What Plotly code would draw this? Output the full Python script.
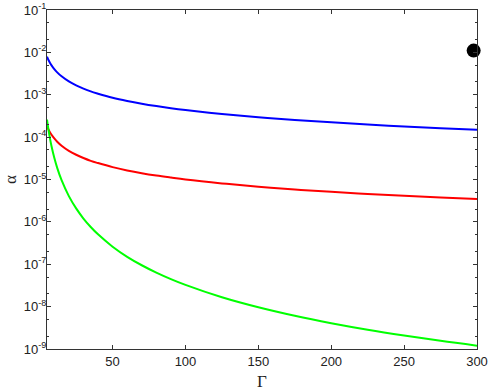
import plotly.graph_objects as go

gamma = [5, 6, 7, 8, 10, 12, 15, 20, 25, 30, 35, 40, 50, 60, 70, 80, 90, 100,
         125, 150, 175, 200, 225, 250, 275, 300]
alpha_blue = [7.9e-3, 6.62e-3, 5.7e-3, 5.01e-3, 4.04e-3, 3.38e-3, 2.72e-3, 2.06e-3,
              1.67e-3, 1.40e-3, 1.20e-3, 1.06e-3, 8.5e-4, 7.13e-4, 6.14e-4, 5.4e-4,
              4.82e-4, 4.36e-4, 3.52e-4, 2.94e-4, 2.53e-4, 2.23e-4, 1.98e-4, 1.79e-4,
              1.63e-4, 1.5e-4]
alpha_red = [1.82e-4, 1.52e-4, 1.31e-4, 1.15e-4, 9.3e-5, 7.78e-5, 6.26e-5, 4.74e-5,
             3.84e-5, 3.22e-5, 2.76e-5, 2.44e-5, 1.96e-5, 1.64e-5, 1.41e-5, 1.24e-5,
             1.11e-5, 1.0e-5, 8.1e-6, 6.76e-6, 5.8e-6, 5.13e-6, 4.55e-6, 4.12e-6,
             3.75e-6, 3.45e-6]
alpha_green = [2.6e-4, 1.50e-4, 9.47e-5, 6.35e-5, 3.25e-5, 1.88e-5, 9.63e-6, 4.06e-6,
               2.08e-6, 1.20e-6, 7.58e-7, 5.08e-7, 2.6e-7, 1.50e-7, 9.47e-8, 6.35e-8,
               4.46e-8, 3.25e-8, 1.66e-8, 9.63e-9, 6.06e-9, 4.06e-9, 2.85e-9, 2.08e-9,
               1.56e-9, 1.20e-9]
point_gamma = [297.7]
point_alpha = [1.1e-2]

x_ticks = [50, 100, 150, 200, 250, 300]
y_ticks = [1e-9, 1e-8, 1e-7, 1e-6, 1e-5, 1e-4, 1e-3, 1e-2, 1e-1]
y_ticklabels = ["10<sup>-%d</sup>" % k for k in range(9, 0, -1)]

fig = go.Figure()
for ys, col in [(alpha_blue, "#0000FF"), (alpha_red, "#FF0000"), (alpha_green, "#00FF00")]:
    fig.add_trace(go.Scatter(x=gamma, y=ys, mode="lines",
                             line=dict(color=col, width=2, shape="spline"),
                             showlegend=False))
fig.add_trace(go.Scatter(x=point_gamma, y=point_alpha, mode="markers",
                         marker=dict(color="black", size=14), cliponaxis=False,
                         showlegend=False))

axis_common = dict(showgrid=False, zeroline=False, showline=True, linecolor="#333333",
                   linewidth=1, mirror="ticks", ticks="inside", ticklen=4,
                   tickcolor="#333333", automargin=False,
                   tickfont=dict(family="Liberation Sans, Arial", size=13, color="#222222"))

fig.update_xaxes(range=[5, 300], tickvals=x_ticks,
                 title=dict(text="Γ", font=dict(family="Liberation Serif, Times New Roman",
                                                 size=17, color="#222222"), standoff=7),
                 **axis_common)
fig.update_yaxes(type="log", range=[-9, -1], tickvals=y_ticks, ticktext=y_ticklabels,
                 minor=dict(ticks="inside", ticklen=2, tickcolor="#333333"),
                 ticklabelstandoff=-3,
                 title=dict(text="α", font=dict(family="Liberation Serif, Times New Roman",
                                                 size=17, color="#222222"), standoff=2),
                 **axis_common)

fig.update_layout(width=491, height=392, margin=dict(l=47, r=14, t=10, b=43),
                  plot_bgcolor="white", paper_bgcolor="white")
fig.write_html("out.html", config={"displayModeBar": False},
               post_script="document.body.style.margin='0';document.body.style.overflow='hidden';")
